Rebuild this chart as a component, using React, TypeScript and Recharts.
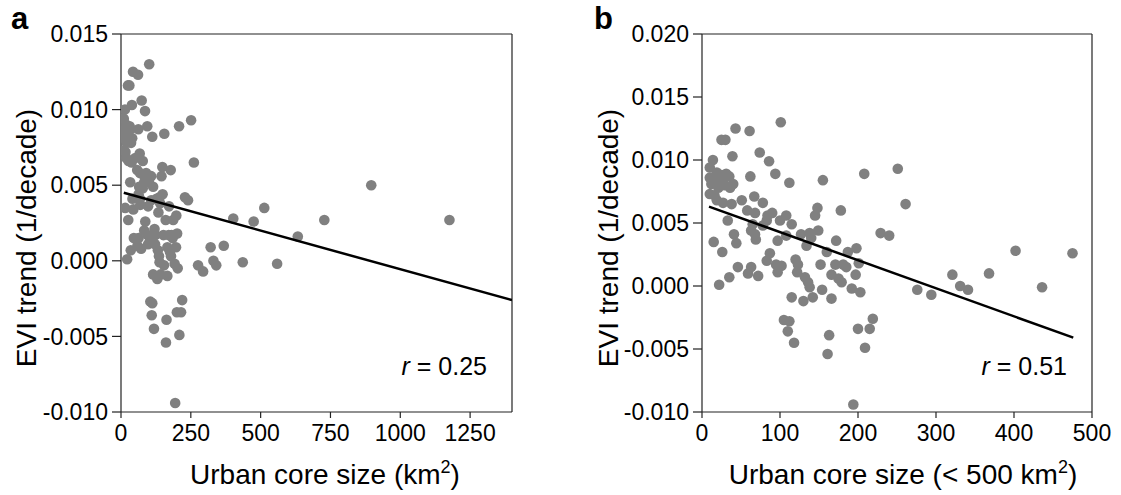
import React from 'react';
import { ScatterChart, Scatter, XAxis, YAxis, CartesianGrid } from 'recharts';

// Urban core size (km2) and EVI trend (1/decade) for every city
const urbanSize = [
  101, 43, 61, 25, 30, 14, 39, 74, 86, 10, 62, 94, 112, 155, 208, 10, 67, 78, 51, 148,
  178, 145, 84, 90, 108, 33, 58, 19, 25, 31, 35, 10, 16, 27, 40, 12, 21, 29, 36, 16,
  19, 27, 38, 68, 65, 63, 68, 78, 83, 100, 115, 41, 44, 69, 15, 26, 97, 108, 127, 138,
  149, 140, 134, 172, 160, 187, 198, 201, 87, 83, 95, 102, 97, 120, 123, 122, 132, 136, 138, 152,
  171, 181, 185, 166, 175, 179, 197, 192, 203, 46, 63, 59, 72, 35, 22, 154, 115, 130, 142, 166,
  105, 112, 110, 118, 163, 161, 200, 215, 219, 209, 194, 261, 251, 229, 240, 276, 294, 321, 331, 341,
  368, 402, 436, 475, 513, 559, 633, 728, 896, 1176,
];
const eviTrend = [
  0.0130, 0.0125, 0.0123, 0.0116, 0.0116, 0.0100, 0.0103, 0.0106, 0.0099, 0.0094, 0.0087, 0.0089, 0.0082, 0.0084, 0.0089, 0.0073, 0.0071, 0.0066, 0.0068, 0.0062,
  0.0060, 0.0056, 0.0056, 0.0058, 0.0056, 0.0052, 0.0060, 0.0090, 0.0088, 0.0089, 0.0087, 0.0086, 0.0084, 0.0082, 0.0081, 0.0081, 0.0078, 0.0080, 0.0078, 0.0072,
  0.0068, 0.0066, 0.0065, 0.0058, 0.0049, 0.0044, 0.0041, 0.0048, 0.0052, 0.0052, 0.0049, 0.0041, 0.0034, 0.0037, 0.0035, 0.0027, 0.0036, 0.0040, 0.0041, 0.0042,
  0.0044, 0.0038, 0.0032, 0.0036, 0.0027, 0.0027, 0.0030, 0.0018, 0.0026, 0.0020, 0.0017, 0.0016, 0.0011, 0.0021, 0.0017, 0.0011, 0.0007, 0.0003, -0.0001, 0.0017,
  0.0017, 0.0017, 0.0015, 0.0009, 0.0006, 0.0003, 0.0009, -0.0002, -0.0005, 0.0015, 0.0015, 0.0010, 0.0008, 0.0007, 0.0001, -0.0003, -0.0009, -0.0012, -0.0009, -0.0010,
  -0.0027, -0.0028, -0.0036, -0.0045, -0.0039, -0.0054, -0.0034, -0.0034, -0.0026, -0.0049, -0.0094, 0.0065, 0.0093, 0.0042, 0.0040, -0.0003, -0.0007, 0.0009, 0.0000, -0.0003,
  0.0010, 0.0028, -0.0001, 0.0026, 0.0035, -0.0002, 0.0016, 0.0027, 0.0050, 0.0027,
];

// fitted regression lines (end points)
const fitA_x = [10, 1400];
const fitA_y = [0.0045, -0.0026];
const fitB_x = [9, 476];
const fitB_y = [0.0063, -0.0041];

const xTicksA = [0, 250, 500, 750, 1000, 1250];
const xTicksB = [0, 100, 200, 300, 400, 500];
const yTicksA = [-0.01, -0.005, 0, 0.005, 0.01, 0.015];
const yTicksB = [-0.01, -0.005, 0, 0.005, 0.01, 0.015, 0.02];

const rA = '0.25';
const rB = '0.51';

const FONT = '"Liberation Sans", Arial, sans-serif';
const AXIS = '#222';
const DOT = '#808080';

const allPoints = urbanSize.map((x, i) => ({ x, y: eviTrend[i] }));
const pointsA = allPoints;
const pointsB = allPoints.filter((p) => p.x < 500);
const fitA = fitA_x.map((x, i) => ({ x, y: fitA_y[i] }));
const fitB = fitB_x.map((x, i) => ({ x, y: fitB_y[i] }));

const renderDot = (props: any) => (
  <circle cx={props.cx} cy={props.cy} r={5.3} fill={DOT} />
);
const renderNone = () => <g />;

const tickStyle = { fontSize: 23, fill: '#000', fontFamily: FONT };

// frame lines along the top and right edges of the plot area
const topEdge = (p: any) => [p.offset.top];
const rightEdge = (p: any) => [p.offset.left + p.offset.width];

function Panel(props: any) {
  const { left, width, yAxisWidth, rightMargin, xDomain, xTicks, yDomain, yTicks, points, fit } = props;
  return (
    <div style={{ position: 'absolute', left, top: 0 }}>
      <ScatterChart
        width={width}
        height={495}
        margin={{ top: 34, right: rightMargin, bottom: 0, left: 0 }}
      >
        <CartesianGrid
          stroke={AXIS}
          strokeWidth={1.2}
          horizontalCoordinatesGenerator={topEdge}
          verticalCoordinatesGenerator={rightEdge}
          syncWithTicks={false}
        />
        <XAxis
          dataKey="x"
          type="number"
          domain={xDomain}
          ticks={xTicks}
          interval={0}
          allowDataOverflow
          height={83}
          tickSize={6}
          tickMargin={7}
          tick={tickStyle}
          axisLine={{ stroke: AXIS, strokeWidth: 1.2 }}
          tickLine={{ stroke: AXIS, strokeWidth: 1.2 }}
        />
        <YAxis
          dataKey="y"
          type="number"
          domain={yDomain}
          ticks={yTicks}
          interval={0}
          allowDataOverflow
          width={yAxisWidth}
          tickSize={9}
          tickMargin={4}
          tick={tickStyle}
          tickFormatter={(v: number) => v.toFixed(3)}
          axisLine={{ stroke: AXIS, strokeWidth: 1.2 }}
          tickLine={{ stroke: AXIS, strokeWidth: 1.2 }}
        />
        <Scatter data={points} shape={renderDot} isAnimationActive={false} />
        <Scatter
          data={fit}
          shape={renderNone}
          line={{ stroke: '#000', strokeWidth: 2.5 }}
          isAnimationActive={false}
        />
      </ScatterChart>
    </div>
  );
}

export default function App() {
  return (
    <div
      style={{
        position: 'absolute',
        left: 0,
        top: 0,
        width: 1121,
        height: 495,
        background: '#fff',
        fontFamily: FONT,
      }}
    >
      <Panel
        left={0}
        width={560}
        yAxisWidth={121}
        rightMargin={48}
        xDomain={[0, 1400]}
        xTicks={xTicksA}
        yDomain={[-0.01, 0.015]}
        yTicks={yTicksA}
        points={pointsA}
        fit={fitA}
      />
      <Panel
        left={560}
        width={561}
        yAxisWidth={142}
        rightMargin={29}
        xDomain={[0, 500]}
        xTicks={xTicksB}
        yDomain={[-0.01, 0.02]}
        yTicks={yTicksB}
        points={pointsB}
        fit={fitB}
      />
      <svg
        width={1121}
        height={495}
        style={{ position: 'absolute', left: 0, top: 0, pointerEvents: 'none' }}
        fontFamily={FONT}
      >
        <text x={11} y={29} fontSize={31} fontWeight="bold" fill="#000">a</text>
        <text x={594} y={29} fontSize={31} fontWeight="bold" fill="#000">b</text>

        <text
          transform="translate(26,238) rotate(-90)"
          textAnchor="middle"
          dominantBaseline="central"
          fontSize={28}
          fill="#000"
        >
          EVI trend (1/decade)
        </text>
        <text
          transform="translate(608,238) rotate(-90)"
          textAnchor="middle"
          dominantBaseline="central"
          fontSize={28}
          fill="#000"
        >
          EVI trend (1/decade)
        </text>

        <text x={325} y={484} textAnchor="middle" fontSize={28} fill="#000">
          Urban core size (km<tspan dy={-11} fontSize={18}>2</tspan>
          <tspan dy={11}>)</tspan>
        </text>
        <text x={903} y={484} textAnchor="middle" fontSize={28} fill="#000">
          Urban core size (&lt; 500 km<tspan dy={-11} fontSize={18}>2</tspan>
          <tspan dy={11}>)</tspan>
        </text>

        <text x={487} y={375} textAnchor="end" fontSize={25} fill="#000">
          <tspan fontStyle="italic">r</tspan> = {rA}
        </text>
        <text x={1067} y={375} textAnchor="end" fontSize={25} fill="#000">
          <tspan fontStyle="italic">r</tspan> = {rB}
        </text>
      </svg>
    </div>
  );
}
